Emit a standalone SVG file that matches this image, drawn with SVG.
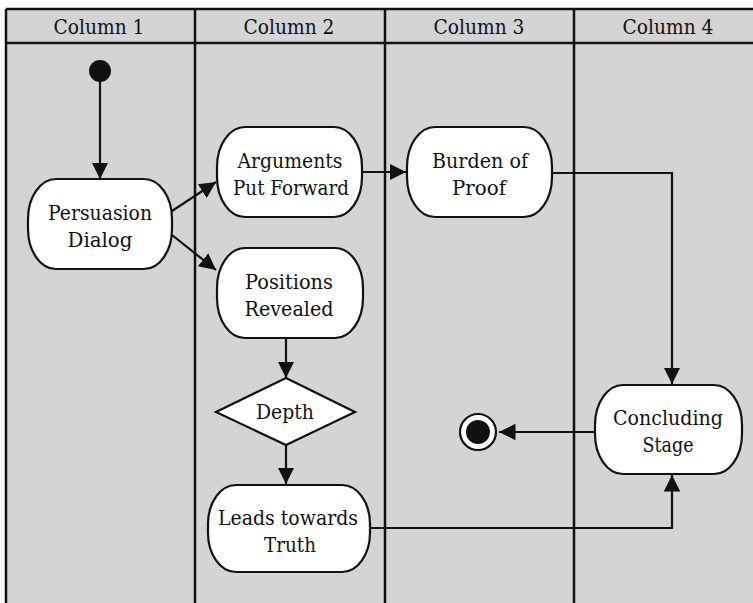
<svg xmlns="http://www.w3.org/2000/svg" width="753" height="603" viewBox="0 0 753 603">
<style>
.lane{fill:#d4d4d4;stroke:none}
.frame{stroke:#111;stroke-width:2.5;fill:none}
.node{fill:#fff;stroke:#111;stroke-width:2.2}
text{font-family:'DejaVu Serif',serif;fill:#111;text-anchor:middle}
.t{font-size:20px}
.h{font-size:20px}
.c{stroke:#111;stroke-width:2.2;fill:none;marker-end:url(#ah)}
</style>
<defs>
<marker id="ah" viewBox="0 0 10 10" refX="10" refY="5" markerWidth="7.5" markerHeight="7.5" markerUnits="strokeWidth" orient="auto">
<path d="M0,0 L10,5 L0,10 z" fill="#111"/>
</marker>
</defs>
<rect x="0" y="0" width="753" height="603" fill="#fff"/>
<rect class="lane" x="6" y="9" width="747" height="594"/>
<g id="lanes">
<line class="frame" x1="6" y1="9" x2="753" y2="9"/>
<line class="frame" x1="6" y1="43" x2="753" y2="43"/>
<line class="frame" x1="6" y1="9" x2="6" y2="603"/>
<line class="frame" x1="195" y1="9" x2="195" y2="603"/>
<line class="frame" x1="385" y1="9" x2="385" y2="603"/>
<line class="frame" x1="574" y1="9" x2="574" y2="603"/>
<text class="h" x="99" y="34" textLength="91" lengthAdjust="spacingAndGlyphs">Column 1</text>
<text class="h" x="289" y="34" textLength="91" lengthAdjust="spacingAndGlyphs">Column 2</text>
<text class="h" x="479" y="34" textLength="91" lengthAdjust="spacingAndGlyphs">Column 3</text>
<text class="h" x="668" y="34" textLength="91" lengthAdjust="spacingAndGlyphs">Column 4</text>
</g>
<g id="connectors">
<line class="c" x1="100" y1="82" x2="100" y2="179"/>
<line class="c" x1="172" y1="211" x2="216" y2="182"/>
<line class="c" x1="172" y1="235" x2="216" y2="270"/>
<line class="c" x1="362" y1="172" x2="406" y2="172"/>
<polyline class="c" points="552,173 672,173 672,384"/>
<line class="c" x1="286" y1="338" x2="286" y2="378"/>
<line class="c" x1="286" y1="445" x2="286" y2="484"/>
<polyline class="c" points="370,528 672,528 672,475"/>
<line class="c" x1="595" y1="432" x2="499" y2="432"/>
</g>
<g id="start"><circle cx="100" cy="71" r="11" fill="#111"/></g>
<g id="persuasion">
<rect class="node" x="28" y="179" width="144" height="90" rx="28" ry="40"/>
<text class="t" x="100" y="220" textLength="104" lengthAdjust="spacingAndGlyphs">Persuasion</text>
<text class="t" x="100" y="247" textLength="65" lengthAdjust="spacingAndGlyphs">Dialog</text>
</g>
<g id="arguments">
<rect class="node" x="217" y="127" width="145" height="90" rx="28" ry="40"/>
<text class="t" x="290" y="168" textLength="105" lengthAdjust="spacingAndGlyphs">Arguments</text>
<text class="t" x="291" y="195" textLength="116" lengthAdjust="spacingAndGlyphs">Put Forward</text>
</g>
<g id="burden">
<rect class="node" x="407" y="127" width="145" height="90" rx="28" ry="40"/>
<text class="t" x="480" y="168" textLength="96" lengthAdjust="spacingAndGlyphs">Burden of</text>
<text class="t" x="479" y="195" textLength="54" lengthAdjust="spacingAndGlyphs">Proof</text>
</g>
<g id="positions">
<rect class="node" x="217" y="248" width="146" height="90" rx="28" ry="40"/>
<text class="t" x="289" y="289" textLength="88" lengthAdjust="spacingAndGlyphs">Positions</text>
<text class="t" x="289" y="316" textLength="89" lengthAdjust="spacingAndGlyphs">Revealed</text>
</g>
<g id="depth">
<polygon class="node" points="286,378 355,412 286,445 216,412"/>
<text class="t" x="285" y="419" textLength="58" lengthAdjust="spacingAndGlyphs">Depth</text>
</g>
<g id="leads">
<rect class="node" x="208" y="485" width="162" height="87" rx="28" ry="39"/>
<text class="t" x="288" y="525" textLength="140" lengthAdjust="spacingAndGlyphs">Leads towards</text>
<text class="t" x="290" y="552" textLength="52" lengthAdjust="spacingAndGlyphs">Truth</text>
</g>
<g id="concluding">
<rect class="node" x="595" y="385" width="147" height="89" rx="28" ry="40"/>
<text class="t" x="668" y="425" textLength="110" lengthAdjust="spacingAndGlyphs">Concluding</text>
<text class="t" x="668" y="452" textLength="51" lengthAdjust="spacingAndGlyphs">Stage</text>
</g>
<g id="end">
<circle cx="478" cy="432" r="18" fill="#fff" stroke="#111" stroke-width="2.2"/>
<circle cx="478" cy="432" r="12" fill="#111"/>
</g>
</svg>
